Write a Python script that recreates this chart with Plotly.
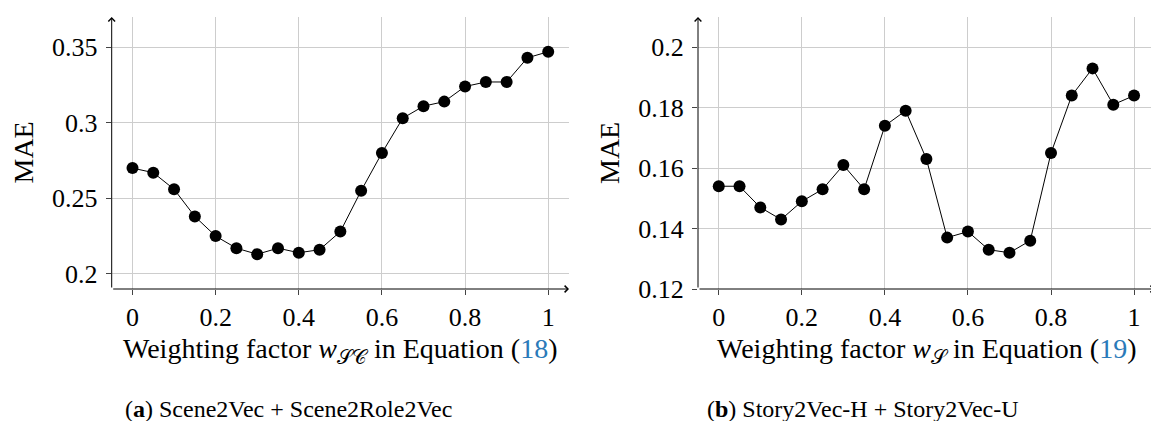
import plotly.graph_objects as go

# ---- data ----
w = [0, 0.05, 0.1, 0.15, 0.2, 0.25, 0.3, 0.35, 0.4, 0.45, 0.5,
     0.55, 0.6, 0.65, 0.7, 0.75, 0.8, 0.85, 0.9, 0.95, 1.0]
mae_a = [0.270, 0.267, 0.256, 0.238, 0.225, 0.217, 0.213, 0.217, 0.214, 0.216, 0.228,
         0.255, 0.280, 0.303, 0.311, 0.314, 0.324, 0.327, 0.327, 0.343, 0.347]
mae_b = [0.154, 0.154, 0.147, 0.143, 0.149, 0.153, 0.161, 0.153, 0.174, 0.179, 0.163,
         0.137, 0.139, 0.133, 0.132, 0.136, 0.165, 0.184, 0.193, 0.181, 0.184]

x_ticks = [0, 0.2, 0.4, 0.6, 0.8, 1]
x_tick_text = ["0", "0.2", "0.4", "0.6", "0.8", "1"]
ya_ticks = [0.2, 0.25, 0.3, 0.35]
ya_tick_text = ["0.2", "0.25", "0.3", "0.35"]
yb_ticks = [0.12, 0.14, 0.16, 0.18, 0.2]
yb_tick_text = ["0.12", "0.14", "0.16", "0.18", "0.2"]

LINK = "#2a7ab9"
FONT = "'Liberation Serif', 'Times New Roman', 'DejaVu Serif', serif"
xtitle_a = "Weighting factor <i>w</i><sub>𝒮𝒞</sub> in Equation (<span style='color:%s'>18</span>)" % LINK
xtitle_b = "Weighting factor <i>w</i><sub>𝒮</sub> in Equation (<span style='color:%s'>19</span>)" % LINK
caption_a = "(<b>a</b>) Scene2Vec + Scene2Role2Vec"
caption_b = "(<b>b</b>) Story2Vec-H + Story2Vec-U"

fig = go.Figure()
for xs, ys, xa, ya in [(w, mae_a, "x", "y"), (w, mae_b, "x2", "y2")]:
    fig.add_trace(go.Scatter(
        x=xs, y=ys, xaxis=xa, yaxis=ya, mode="lines+markers",
        line=dict(color="black", width=1),
        marker=dict(color="black", size=12),
        showlegend=False, cliponaxis=False))

W, H = 1151, 421
mt, mb = 17, 132
ph = H - mt - mb

axis_common = dict(showgrid=True, gridcolor="#cdcdcd", gridwidth=1, zeroline=False,
                   showline=False, ticks="outside", ticklen=5, tickwidth=1,
                   tickcolor="#444", tickfont=dict(family=FONT, size=26, color="black"))

xa_rng = [-0.05, 1.05]
ya_rng = [0.19, 0.37]
xb_rng = [-0.05, 1.0408]
yb_rng = [0.12, 0.21]

fig.update_layout(
    width=W, height=H,
    margin=dict(l=0, r=0, t=mt, b=mb),
    paper_bgcolor="white", plot_bgcolor="white",
    font=dict(family=FONT, color="black"),
    xaxis=dict(domain=[111.7 / W, 569.0 / W], range=xa_rng, tickvals=x_ticks,
               ticktext=x_tick_text, anchor="y", **axis_common),
    yaxis=dict(domain=[0, 1], range=ya_rng, tickvals=ya_ticks, ticktext=ya_tick_text,
               anchor="x", ticklabelstandoff=3, **axis_common),
    xaxis2=dict(domain=[698.0 / W, 1.0], range=xb_rng, tickvals=x_ticks,
                ticktext=x_tick_text, anchor="y2", **axis_common),
    yaxis2=dict(domain=[0, 1], range=yb_rng, tickvals=yb_ticks, ticktext=yb_tick_text,
                anchor="x2", ticklabelstandoff=3, **axis_common),
)

ann = []
# axis arrows
for xr, yr, xrng, yrng, xend in [("x", "y", xa_rng, ya_rng, 1.05), ("x2", "y2", xb_rng, yb_rng, 1.05)]:
    ann.append(dict(xref=xr, yref=yr, axref=xr, ayref=yr, x=xend, y=yrng[0],
                    ax=xrng[0], ay=yrng[0], showarrow=True, arrowhead=4, arrowsize=1.3,
                    arrowwidth=1, arrowcolor="black", text=""))
    ann.append(dict(xref=xr, yref=yr, axref=xr, ayref=yr, x=xrng[0], y=yrng[1],
                    ax=xrng[0], ay=yrng[0], showarrow=True, arrowhead=4, arrowsize=1.3,
                    arrowwidth=1, arrowcolor="black", text=""))


def py(pix):
    return 1 - (pix - mt) / ph


tf = dict(family=FONT, size=28, color="black")
cf = dict(family=FONT, size=24, color="black")
ann += [
    dict(xref="paper", yref="paper", x=340.3 / W, y=py(350), text=xtitle_a, showarrow=False,
         xanchor="center", yanchor="middle", font=tf),
    dict(xref="paper", yref="paper", x=926.4 / W, y=py(350), text=xtitle_b, showarrow=False,
         xanchor="center", yanchor="middle", font=tf),
    dict(xref="paper", yref="paper", x=22.5 / W, y=py(153), text="MAE", showarrow=False,
         textangle=-90, xanchor="center", yanchor="middle", font=tf),
    dict(xref="paper", yref="paper", x=609 / W, y=py(153), text="MAE", showarrow=False,
         textangle=-90, xanchor="center", yanchor="middle", font=tf),
    dict(xref="paper", yref="paper", x=288 / W, y=py(409), text=caption_a, showarrow=False,
         xanchor="center", yanchor="middle", font=cf),
    dict(xref="paper", yref="paper", x=863 / W, y=py(409), text=caption_b, showarrow=False,
         xanchor="center", yanchor="middle", font=cf),
]
fig.update_layout(annotations=ann)

fig.write_html("out.html")
